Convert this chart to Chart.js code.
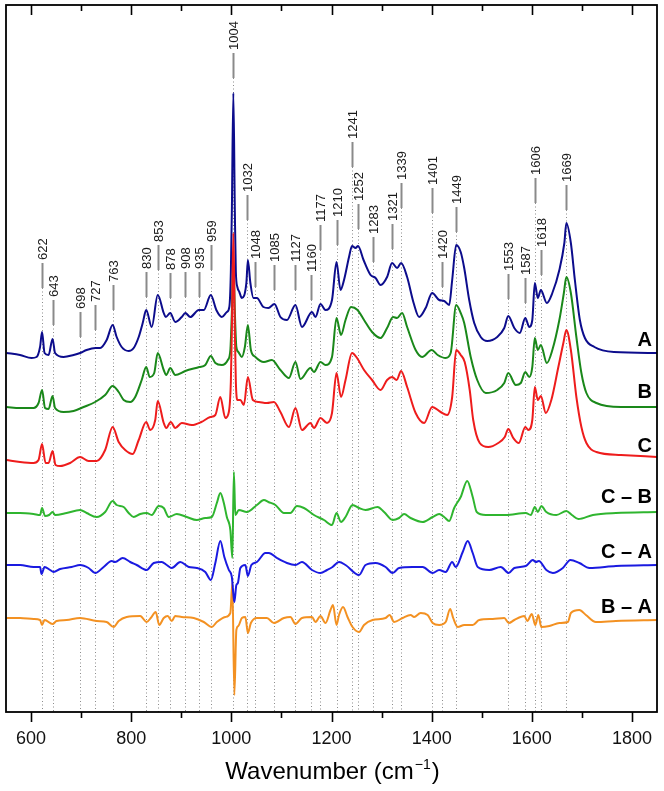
<!DOCTYPE html>
<html>
<head>
<meta charset="utf-8">
<script src="https://cdn.jsdelivr.net/npm/chart.js@4/dist/chart.umd.min.js"></script>
<style>
  html, body { margin: 0; padding: 0; background: #fff; }
  canvas { display: block; }
</style>
</head>
<body>
<canvas id="ramanChart" width="664" height="791"></canvas>
<script>
// Raman spectra A, B, C and their difference spectra
// each point: [wavenumber (cm-1), intensity (arb. units, offset included)]
var specA = [[551,359],[578,357],[601,354],[611,355],[618,365],[622,380],[627,359],[635,357],[643,373],[648,359],[665,355],[685,357],[698,359],[711,362],[729,364],[738,364],[751,372],[763,387],[771,375],[781,365],[795,361],[805,364],[815,375],[823,389],[830,402],[841,385],[853,417],[865,399],[869,395],[878,399],[888,390],[901,395],[908,399],[918,395],[935,402],[945,402],[959,417],[970,402],[981,395],[991,400],[996,405],[999,440],[1001,500],[1004,619],[1007,500],[1009,440],[1012,425],[1016,420],[1021,414],[1030,429],[1033,452],[1038,429],[1044,414],[1051,414],[1064,405],[1074,404],[1086,408],[1098,395],[1111,392],[1128,407],[1141,385],[1161,400],[1168,395],[1178,408],[1188,402],[1201,412],[1210,450],[1218,422],[1225,432],[1235,455],[1241,466],[1248,464],[1253,466],[1264,452],[1278,437],[1288,434],[1298,427],[1311,435],[1321,449],[1331,444],[1339,449],[1351,435],[1364,409],[1375,395],[1388,404],[1401,419],[1415,412],[1425,411],[1435,407],[1441,432],[1449,467],[1458,460],[1465,444],[1475,412],[1485,389],[1498,375],[1511,371],[1531,375],[1545,384],[1553,396],[1565,384],[1576,379],[1587,394],[1595,385],[1601,392],[1606,429],[1612,414],[1618,422],[1630,409],[1641,419],[1655,442],[1665,469],[1669,489],[1678,469],[1686,432],[1696,392],[1706,374],[1725,365],[1764,360],[1851,359]];
var specB = [[551,305],[578,304],[605,304],[615,309],[622,322],[628,304],[635,303],[643,316],[648,304],[665,300],[685,301],[705,305],[728,310],[748,317],[763,326],[775,320],[785,312],[798,310],[808,315],[821,332],[830,345],[837,335],[846,339],[853,359],[865,342],[870,337],[878,344],[888,337],[908,341],[936,345],[948,347],[959,356],[968,349],[981,347],[993,352],[998,362],[1001,400],[1004,450],[1007,400],[1010,365],[1014,360],[1021,355],[1027,365],[1033,387],[1039,362],[1048,355],[1065,350],[1081,352],[1098,342],[1115,334],[1128,350],[1138,333],[1158,344],[1165,340],[1178,350],[1188,347],[1201,355],[1210,394],[1219,377],[1228,392],[1239,405],[1252,402],[1265,392],[1281,380],[1298,374],[1311,384],[1323,395],[1331,394],[1341,399],[1351,385],[1368,362],[1381,355],[1400,362],[1412,357],[1428,354],[1438,359],[1449,407],[1458,399],[1465,389],[1478,355],[1491,332],[1508,319],[1531,322],[1545,329],[1553,339],[1568,327],[1578,329],[1587,340],[1595,335],[1601,345],[1606,374],[1612,362],[1618,367],[1630,349],[1641,362],[1655,392],[1664,419],[1669,435],[1678,419],[1689,375],[1699,339],[1709,319],[1729,309],[1778,305],[1851,305]];
var specC = [[551,252],[578,250],[605,249],[615,252],[622,268],[629,249],[635,249],[643,261],[649,247],[658,246],[678,249],[698,255],[715,251],[731,251],[748,262],[763,285],[775,270],[788,262],[803,258],[815,272],[830,290],[838,282],[848,292],[853,311],[865,289],[870,284],[879,290],[888,284],[901,289],[921,287],[940,290],[958,295],[968,297],[978,315],[988,294],[995,300],[999,330],[1001,380],[1004,479],[1007,380],[1009,330],[1012,312],[1018,312],[1025,307],[1033,335],[1043,312],[1055,310],[1071,309],[1085,310],[1098,300],[1115,285],[1128,304],[1141,282],[1158,289],[1165,284],[1178,294],[1191,289],[1201,299],[1210,339],[1219,315],[1228,332],[1241,359],[1251,354],[1265,342],[1281,332],[1298,322],[1311,332],[1321,335],[1330,332],[1339,341],[1351,325],[1368,299],[1385,289],[1401,305],[1418,300],[1431,297],[1441,315],[1449,362],[1458,357],[1466,350],[1476,322],[1483,292],[1496,269],[1513,265],[1533,269],[1546,275],[1553,283],[1563,274],[1574,269],[1587,285],[1593,282],[1601,292],[1606,325],[1612,312],[1618,316],[1628,299],[1639,312],[1653,345],[1663,369],[1669,382],[1678,362],[1689,315],[1699,285],[1709,269],[1729,260],[1778,257],[1851,255]];
var specCB = [[551,199],[578,199],[605,198],[618,197],[622,204],[628,196],[636,197],[643,200],[648,197],[671,199],[698,202],[711,199],[731,195],[748,200],[763,211],[771,207],[785,205],[795,199],[805,195],[818,198],[831,199],[841,197],[855,206],[865,204],[875,195],[891,198],[911,195],[931,192],[948,194],[961,195],[971,209],[978,219],[985,209],[991,195],[998,182],[1002,154],[1005,240],[1008,197],[1015,202],[1031,200],[1051,207],[1065,212],[1074,210],[1088,207],[1105,199],[1118,199],[1131,206],[1145,204],[1165,197],[1185,192],[1201,187],[1210,199],[1219,190],[1228,195],[1242,207],[1255,204],[1268,202],[1292,205],[1305,200],[1322,192],[1335,194],[1345,198],[1358,194],[1382,190],[1402,195],[1415,198],[1425,195],[1435,191],[1445,204],[1458,215],[1471,231],[1482,215],[1490,200],[1508,197],[1548,197],[1588,199],[1598,197],[1606,205],[1612,200],[1619,206],[1629,200],[1649,197],[1669,201],[1680,197],[1693,193],[1722,197],[1768,199],[1851,200]];
var specCA = [[551,147],[578,147],[605,145],[618,145],[621,138],[627,145],[638,142],[645,140],[658,143],[681,145],[698,147],[715,144],[728,139],[745,145],[761,151],[768,150],[783,154],[798,150],[811,147],[831,142],[845,149],[861,150],[871,147],[881,144],[898,150],[915,145],[931,144],[948,140],[959,132],[968,149],[978,171],[986,155],[995,142],[1001,135],[1004,118],[1006,110],[1010,127],[1013,129],[1018,144],[1028,147],[1033,136],[1040,147],[1051,150],[1068,159],[1075,159],[1091,154],[1111,149],[1128,147],[1141,150],[1161,142],[1178,139],[1191,142],[1202,145],[1215,150],[1228,147],[1255,137],[1268,147],[1288,149],[1308,145],[1322,139],[1335,144],[1362,145],[1382,145],[1402,139],[1415,142],[1428,140],[1441,150],[1448,145],[1462,160],[1472,171],[1482,159],[1492,145],[1515,142],[1538,145],[1554,139],[1565,144],[1588,146],[1602,152],[1608,150],[1614,151],[1629,142],[1642,139],[1662,144],[1677,152],[1695,149],[1715,144],[1768,146],[1851,147]];
var specBA = [[551,94],[578,94],[605,93],[618,92],[622,87],[627,92],[643,88],[651,91],[671,92],[698,94],[731,91],[751,90],[765,85],[775,91],[791,95],[818,96],[831,90],[839,94],[849,100],[856,87],[865,94],[873,96],[881,91],[888,96],[901,95],[925,94],[945,90],[961,85],[971,90],[988,95],[998,99],[1002,129],[1006,17],[1010,82],[1014,86],[1021,94],[1028,95],[1033,79],[1039,89],[1051,94],[1071,94],[1085,89],[1105,94],[1118,95],[1128,88],[1141,94],[1161,95],[1168,90],[1178,96],[1188,89],[1198,102],[1203,107],[1210,87],[1215,97],[1223,105],[1232,95],[1242,85],[1255,80],[1265,87],[1282,92],[1308,94],[1316,97],[1325,90],[1342,94],[1358,97],[1365,95],[1378,99],[1392,97],[1402,89],[1415,87],[1428,90],[1437,103],[1443,94],[1452,85],[1465,87],[1482,87],[1495,92],[1522,93],[1545,94],[1554,89],[1565,92],[1585,96],[1591,91],[1600,98],[1607,87],[1613,97],[1619,85],[1635,86],[1655,89],[1672,90],[1678,99],[1695,102],[1708,97],[1728,90],[1768,91],[1851,92]];

// x axis ticks (labelled every 200)
var xTicks = [600, 700, 800, 900, 1000, 1100, 1200, 1300, 1400, 1500, 1600, 1700, 1800];

// assigned bands (labels on top) and where each label's leader line ends
var peakBands = [622,643,698,727,763,830,853,878,908,935,959,1004,1032,1048,1085,1127,1160,1177,1210,1241,1252,1283,1321,1339,1401,1420,1449,1553,1587,1606,1618,1669];
var peakLabelY = [424,387,375,382,402,415,442,414,415,415,442,634,492,425,422,422,412,462,467,545,483,450,463,504,499,425,480,413,409,509,437,502];

// trace names on the right, and the intensity level they sit at
var traceNames = ['A', 'B', 'C', 'C \u2013 B', 'C \u2013 A', 'B \u2013 A'];
var traceNameY = [372, 320, 266, 215, 160, 105];

var FONT = '"Liberation Sans", Arial, Helvetica, sans-serif';

function toXY(arr) {
  return arr.map(function(p) { return { x: p[0], y: p[1] }; });
}

function line(ctx, x1, y1, x2, y2) {
  ctx.beginPath();
  ctx.moveTo(x1, y1);
  ctx.lineTo(x2, y2);
  ctx.stroke();
}

// dotted band markers + rotated band labels, drawn under the spectra
var bandLabels = {
  id: 'bandLabels',
  beforeDatasetsDraw: function(chart) {
    var ctx = chart.ctx, x = chart.scales.x, y = chart.scales.y, a = chart.chartArea;
    ctx.save();
    peakBands.forEach(function(w, i) {
      var px = Math.round(x.getPixelForValue(w)) + 0.5;
      var lb = y.getPixelForValue(peakLabelY[i]);
      ctx.strokeStyle = '#8c8c8c';
      ctx.lineWidth = 1;
      ctx.setLineDash([1, 2.5]);
      line(ctx, px, lb, px, a.bottom);
      ctx.setLineDash([]);
      ctx.strokeStyle = '#8a8a8a';
      ctx.lineWidth = 2;
      line(ctx, px, lb, px, lb - 25);
      ctx.save();
      ctx.translate(px, lb - 28);
      ctx.rotate(-Math.PI / 2);
      ctx.fillStyle = '#1a1a1a';
      ctx.font = '13px ' + FONT;
      ctx.textAlign = 'left';
      ctx.textBaseline = 'middle';
      ctx.fillText(String(w), 0, 0.5);
      ctx.restore();
    });
    ctx.restore();
  },
  afterDraw: function(chart) {
    var ctx = chart.ctx, x = chart.scales.x, y = chart.scales.y, a = chart.chartArea;
    ctx.save();
    // frame
    ctx.strokeStyle = '#000';
    ctx.lineWidth = 1.8;
    ctx.strokeRect(a.left, a.top, a.right - a.left, a.bottom - a.top);
    // tick marks: outward at the bottom, inward at the top
    ctx.lineWidth = 1.6;
    x.ticks.forEach(function(t) {
      var px = Math.round(x.getPixelForValue(t.value)) + 0.5;
      var len = t.value % 200 === 0 ? 10 : 6;
      line(ctx, px, a.bottom, px, a.bottom + len);
      line(ctx, px, a.top, px, a.top + len);
    });
    // trace names
    ctx.fillStyle = '#000';
    ctx.font = 'bold 20px ' + FONT;
    ctx.textAlign = 'right';
    ctx.textBaseline = 'middle';
    traceNames.forEach(function(n, i) {
      ctx.fillText(n, a.right - 5, y.getPixelForValue(traceNameY[i]));
    });
    // axis title with superscript
    var main = 'Wavenumber (cm', sup = '\u22121', tail = ')';
    ctx.textAlign = 'left';
    ctx.textBaseline = 'alphabetic';
    ctx.font = '24px ' + FONT;
    var w1 = ctx.measureText(main).width, w3 = ctx.measureText(tail).width;
    ctx.font = '14px ' + FONT;
    var w2 = ctx.measureText(sup).width;
    var sx = (a.left + a.right) / 2 - (w1 + w2 + w3) / 2;
    var base = 779;
    ctx.font = '24px ' + FONT;
    ctx.fillText(main, sx, base);
    ctx.font = '14px ' + FONT;
    ctx.fillText(sup, sx + w1 + 1, base - 10);
    ctx.font = '24px ' + FONT;
    ctx.fillText(tail, sx + w1 + w2 + 2, base);
    ctx.restore();
  }
};

function ds(label, arr, color, order) {
  return {
    label: label,
    data: toXY(arr),
    borderColor: color,
    borderWidth: 2,
    pointRadius: 0,
    fill: false,
    tension: 0.3,
    cubicInterpolationMode: 'monotone',
    order: order
  };
}

new Chart(document.getElementById('ramanChart').getContext('2d'), {
  type: 'line',
  data: {
    datasets: [
      ds('C', specC, '#ee1c1c', 1),
      ds('B', specB, '#1a881a', 2),
      ds('A', specA, '#0c0c8c', 3),
      ds('C \u2013 B', specCB, '#2fb52f', 0),
      ds('C \u2013 A', specCA, '#1a1ae0', 0),
      ds('B \u2013 A', specBA, '#f39122', 0)
    ]
  },
  options: {
    responsive: false,
    devicePixelRatio: 1,
    animation: false,
    layout: { padding: { left: 6, right: 7, top: 5, bottom: 0 } },
    plugins: { legend: { display: false }, tooltip: { enabled: false } },
    scales: {
      x: {
        type: 'linear',
        min: 550,
        max: 1850,
        grid: { display: false, drawTicks: true, tickLength: 10 },
        border: { display: false },
        ticks: {
          autoSkip: false,
          maxRotation: 0,
          padding: 6,
          color: '#111',
          font: { family: FONT, size: 18 },
          callback: function(v) { return v % 200 === 0 ? String(v) : ''; }
        },
        afterBuildTicks: function(scale) {
          scale.ticks = xTicks.map(function(v) { return { value: v }; });
        },
        afterFit: function(scale) { scale.height = 79; }
      },
      y: { display: false, min: 0, max: 707 }
    }
  },
  plugins: [bandLabels]
});
</script>
</body>
</html>
